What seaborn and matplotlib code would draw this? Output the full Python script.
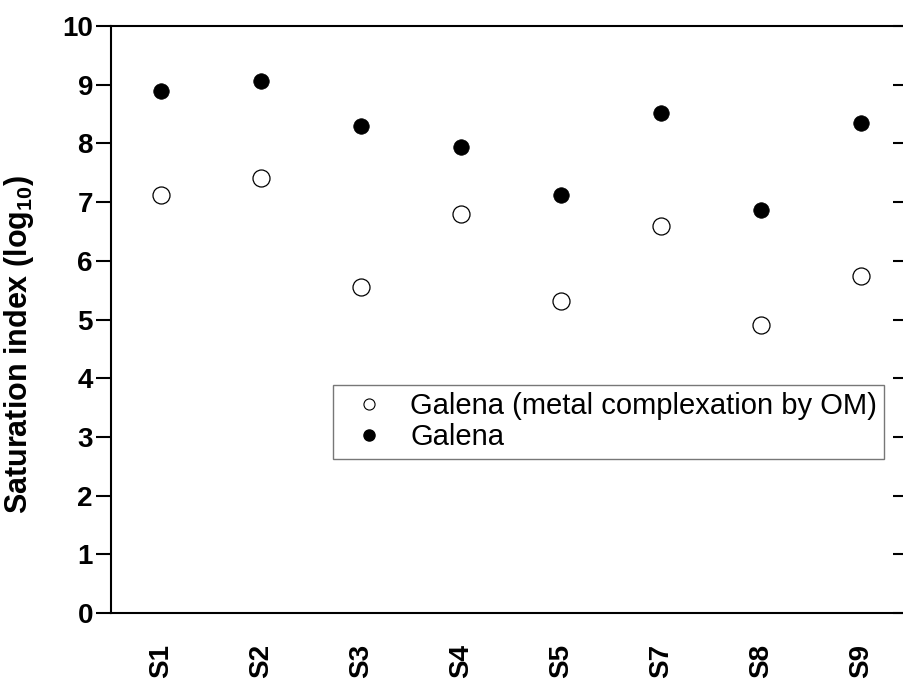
import matplotlib
matplotlib.use("Agg")
import matplotlib.pyplot as plt
import matplotlib.lines as mlines
import seaborn as sns
import pandas as pd
from matplotlib.lines import Line2D

samples = ["S1", "S2", "S3", "S4", "S5", "S7", "S8", "S9"]
galena = [8.89, 9.06, 8.30, 7.94, 7.12, 8.52, 6.87, 8.35]
galena_om = [7.12, 7.41, 5.55, 6.80, 5.32, 6.59, 4.91, 5.74]
yticks = [0, 1, 2, 3, 4, 5, 6, 7, 8, 9, 10]

sns.set_style("ticks")
plt.rcParams['font.family'] = ['Liberation Sans', 'DejaVu Sans']
plt.rcParams['mathtext.fontset'] = 'custom'
plt.rcParams['mathtext.rm'] = 'Liberation Sans'
plt.rcParams['mathtext.bf'] = 'Liberation Sans:bold'
plt.rcParams['text.color'] = 'black'
plt.rcParams['axes.labelcolor'] = 'black'
plt.rcParams['xtick.color'] = 'black'
plt.rcParams['ytick.color'] = 'black'

W, H = 904, 682
fig = plt.figure(figsize=(W / 100, H / 100), dpi=100)
left, right, top, bottom = 111, 904, 26, 613
ax = fig.add_axes([left / W, 1 - bottom / H, (right - left) / W, (bottom - top) / H])

df = pd.DataFrame({"sample": samples, "galena": galena, "galena_om": galena_om})

sns.scatterplot(data=df, x="sample", y="galena_om", ax=ax, marker="o", s=150,
                facecolor="white", edgecolor="black", linewidth=0.9, zorder=3)
sns.scatterplot(data=df, x="sample", y="galena", ax=ax, marker="o", s=125,
                color="black", edgecolor="black", linewidth=0.5, zorder=3)

ax.set_xlim(-0.5, 7.43)
ax.set_ylim(0, 10)
ax.set_yticks(yticks)
ax.set_yticklabels([str(t) for t in yticks], fontsize=20, fontweight="bold")
ax.set_xticks(range(len(samples)))
ax.set_xticklabels(samples, rotation=90, fontsize=20, fontweight="bold")
ax.tick_params(axis="x", length=0, pad=22)
ax.tick_params(axis="y", which="both", direction="out", length=11, width=1.5, pad=2,
               right=True, labelright=False)
for tick in ax.yaxis.get_major_ticks():
    tick.tick2line.set_marker(mlines.TICKLEFT)
    tick.tick2line.set_markersize(8)
ax.set_xlabel("")
ax.set_ylabel(r"Saturation index (log$_{\mathbf{10}}$)", fontsize=22, fontweight="bold")
ax.yaxis.set_label_coords((36 - left) / (right - left), (bottom - 345) / (bottom - top))

for s in ["left", "bottom", "top"]:
    ax.spines[s].set_linewidth(1.5)
    ax.spines[s].set_color("black")
ax.spines["right"].set_visible(False)

handles = [
    Line2D([], [], marker="o", linestyle="none", markerfacecolor="white",
           markeredgecolor="black", markeredgewidth=0.8, markersize=8),
    Line2D([], [], marker="o", linestyle="none", markerfacecolor="black",
           markeredgecolor="black", markersize=8),
]
leg = ax.legend(handles, ["Galena (metal complexation by OM)", "Galena"],
                loc="upper left", bbox_to_anchor=(333 / W, 1 - 385 / H),
                bbox_transform=fig.transFigure, fontsize=21, frameon=True,
                fancybox=False, borderpad=0.25, labelspacing=0.1,
                handletextpad=0.4, handlelength=2.0, borderaxespad=0)
leg.get_frame().set_edgecolor("#555555")
leg.get_frame().set_linewidth(1.0)

fig.savefig("out.png", dpi=100)
